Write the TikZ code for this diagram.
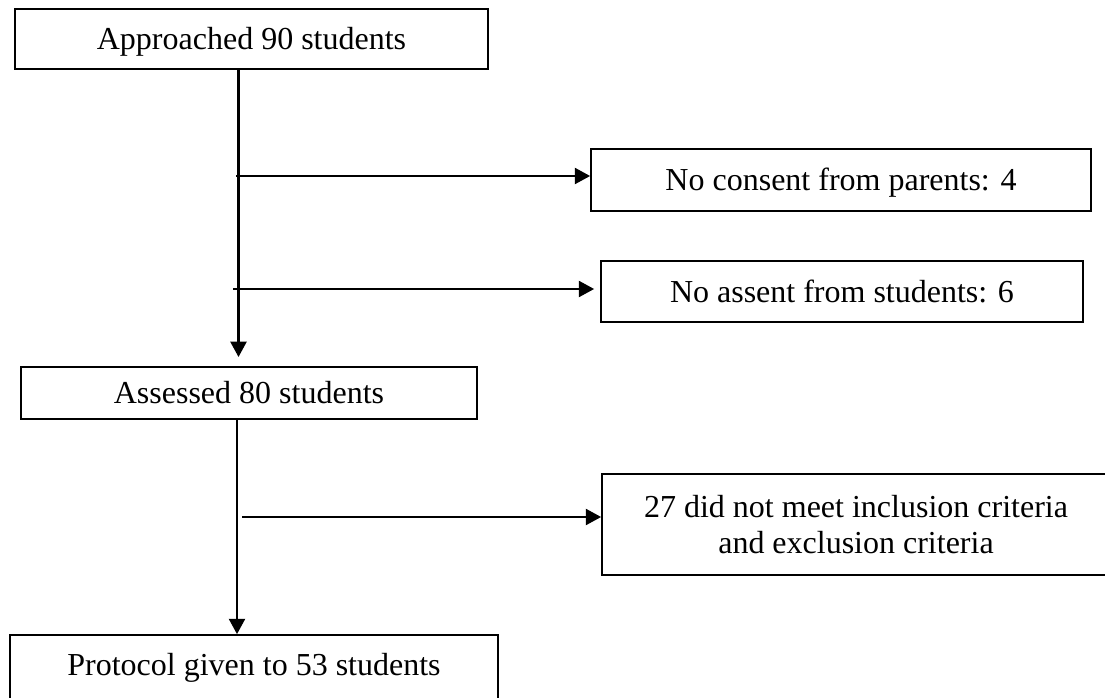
\documentclass[tikz,border=0pt]{standalone}
\usepackage{fontspec}
\setmainfont{Liberation Serif}
\usetikzlibrary{arrows.meta}
\begin{document}
\begin{tikzpicture}[x=0.75pt,y=-0.75pt,
  boxbase/.style={draw, line width=1.3pt, inner sep=0pt, font=\fontsize{24pt}{27.6pt}\selectfont},
  onebox/.style={boxbase, text height=15.8pt, text depth=0pt},
  arr/.style={line width=1.8pt, -{Triangle[length=11.5pt,width=12pt]}}]
\useasboundingbox (0,0) rectangle (1105,698);
\fill[white] (0,0) rectangle (1105,698);
% boxes
\node[onebox, minimum width=354.75pt, minimum height=45pt] (a) at (251.5,39) {Approached 90 students};
\node[onebox, minimum width=375pt, minimum height=46.5pt] (c1) at (841,180) {No consent from parents: 4};
\node[onebox, minimum width=361.5pt, minimum height=45.75pt] (c2) at (842,291.5) {No assent from students: 6};
\node[onebox, minimum width=342pt, minimum height=39pt] (b) at (249,393) {Assessed 80 students};
\node[boxbase, align=center, minimum width=381pt, minimum height=75.75pt] (c3) at (856,524.5) {27 did not meet inclusion criteria\\and exclusion criteria};
\node[onebox, text depth=8.25pt, minimum width=366pt, minimum height=52.5pt] (c) at (254,670) {Protocol given to 53 students};
% connector points
\coordinate (t1) at (238.5,357);
\coordinate (j1) at (236,176);
\coordinate (j2) at (233,289);
\coordinate (t2) at (237,634);
\coordinate (j3) at (242,517);
% connectors
\draw[arr] (a.south -| t1) -- (t1);
\draw[arr] (j1) -- (j1 -| c1.west);
\draw[arr, shorten >=4.5pt] (j2) -- (j2 -| c2.west);
\draw[arr] (b.south -| t2) -- (c.north -| t2);
\draw[arr] (j3) -- (j3 -| c3.west);
\end{tikzpicture}
\end{document}
